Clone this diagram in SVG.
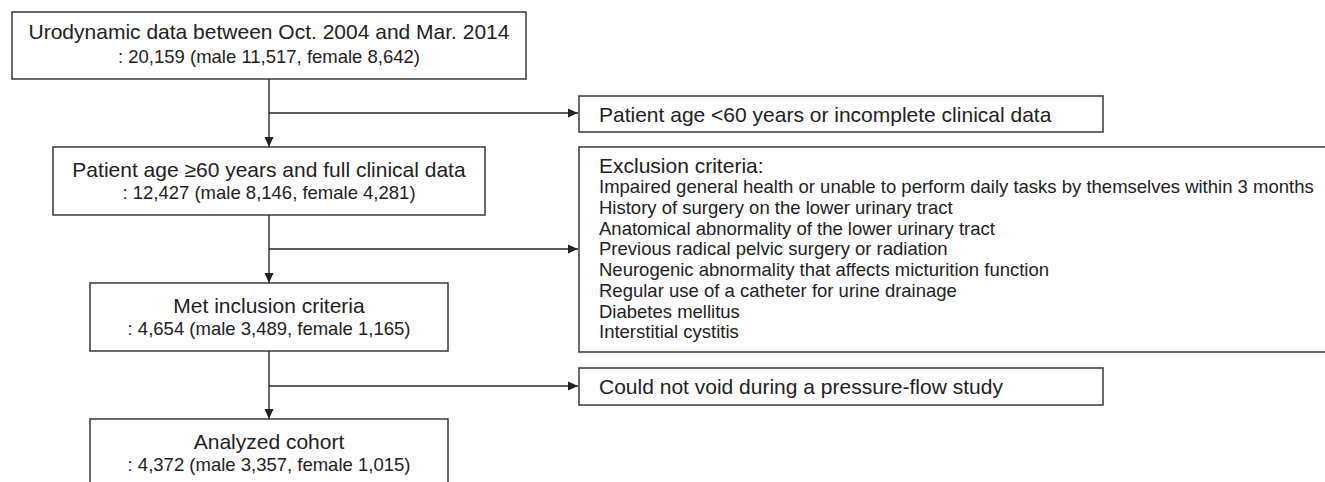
<svg xmlns="http://www.w3.org/2000/svg" width="1325" height="482" viewBox="0 0 1325 482">
<style>
  .box { fill: #ffffff; stroke: #3a3a3a; stroke-width: 1.5; }
  .conn { fill: none; stroke: #2a2a2a; stroke-width: 1.4; }
  text { font-family: "Liberation Sans", Arial, sans-serif; fill: #222222; }
  .t1 { font-size: 21px; }
  .t2 { font-size: 18.5px; }
  .c { text-anchor: middle; }
</style>
<defs>
  <marker id="arr" markerUnits="userSpaceOnUse" markerWidth="10" markerHeight="10" refX="10" refY="5" orient="auto">
    <path d="M0,0.5 L10,5 L0,9.5 z" fill="#222222"/>
  </marker>
</defs>
<rect width="1325" height="482" fill="#ffffff"/>

<g id="connectors">
  <line class="conn" x1="269" y1="79" x2="269" y2="147" marker-end="url(#arr)"/>
  <line class="conn" x1="269" y1="113" x2="578" y2="113" marker-end="url(#arr)"/>
  <line class="conn" x1="269" y1="215" x2="269" y2="283" marker-end="url(#arr)"/>
  <line class="conn" x1="269" y1="249" x2="578" y2="249" marker-end="url(#arr)"/>
  <line class="conn" x1="269" y1="351" x2="269" y2="419" marker-end="url(#arr)"/>
  <line class="conn" x1="269" y1="386" x2="578" y2="386" marker-end="url(#arr)"/>
</g>

<g id="node-urodynamic">
  <rect class="box" x="12" y="12" width="514" height="67"/>
  <text class="t1 c" x="269" y="39">Urodynamic data between Oct. 2004 and Mar. 2014</text>
  <text class="t2 c" x="269" y="63">: 20,159 (male 11,517, female 8,642)</text>
</g>

<g id="node-excluded-age">
  <rect class="box" x="579" y="96" width="524" height="36"/>
  <text class="t1" x="599" y="121.5">Patient age &lt;60 years or incomplete clinical data</text>
</g>

<g id="node-age60">
  <rect class="box" x="53" y="147" width="432" height="68"/>
  <text class="t1 c" x="269" y="177">Patient age ≥60 years and full clinical data</text>
  <text class="t2 c" x="269" y="199">: 12,427 (male 8,146, female 4,281)</text>
</g>

<g id="node-exclusion">
  <rect class="box" x="579" y="147" width="760" height="205"/>
  <text class="t1" x="599" y="172.5">Exclusion criteria:</text>
  <text class="t2" x="599" y="193">Impaired general health or unable to perform daily tasks by themselves within 3 months</text>
  <text class="t2" x="599" y="213.8">History of surgery on the lower urinary tract</text>
  <text class="t2" x="599" y="234.5">Anatomical abnormality of the lower urinary tract</text>
  <text class="t2" x="599" y="255.3">Previous radical pelvic surgery or radiation</text>
  <text class="t2" x="599" y="276">Neurogenic abnormality that affects micturition function</text>
  <text class="t2" x="599" y="296.8">Regular use of a catheter for urine drainage</text>
  <text class="t2" x="599" y="317.5">Diabetes mellitus</text>
  <text class="t2" x="599" y="338.3">Interstitial cystitis</text>
</g>

<g id="node-inclusion">
  <rect class="box" x="90" y="283" width="358" height="68"/>
  <text class="t1 c" x="269" y="313">Met inclusion criteria</text>
  <text class="t2 c" x="269" y="335">: 4,654 (male 3,489, female 1,165)</text>
</g>

<g id="node-could-not-void">
  <rect class="box" x="579" y="368" width="524" height="37"/>
  <text class="t1" x="599" y="393.5">Could not void during a pressure-flow study</text>
</g>

<g id="node-analyzed">
  <rect class="box" x="90" y="419" width="358" height="70"/>
  <text class="t1 c" x="269" y="449">Analyzed cohort</text>
  <text class="t2 c" x="269" y="471">: 4,372 (male 3,357, female 1,015)</text>
</g>
</svg>
